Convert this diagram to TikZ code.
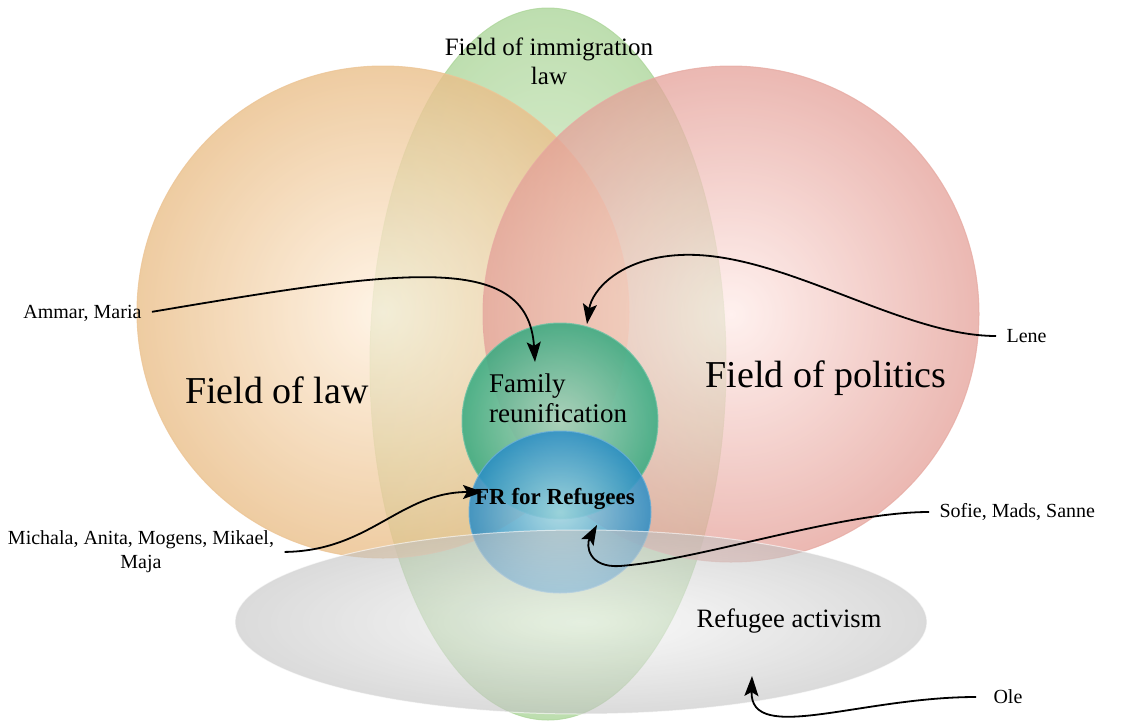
\documentclass[tikz,border=0pt]{standalone}
\usepackage{fontspec}
\setmainfont{Liberation Serif}
\usetikzlibrary{arrows.meta}

\definecolor{immedge}{HTML}{ADD69B}
\definecolor{immcore}{HTML}{E6F3DC}
\definecolor{lawedge}{HTML}{EABF8A}
\definecolor{lawcore}{HTML}{FFF1E0}
\definecolor{poledge}{HTML}{E4A098}
\definecolor{polcore}{HTML}{FFECE9}
\definecolor{famedge}{HTML}{34AA80}
\definecolor{famcore}{HTML}{A2D6BE}
\definecolor{fredge}{HTML}{2A8DC6}
\definecolor{frcore}{HTML}{A8D8E8}
\definecolor{actedge}{HTML}{C2C2C2}
\definecolor{actcore}{HTML}{F8F8F8}

\tikzset{
  field/.style={opacity=0.8, line width=1pt},
  names/.style={font=\fontsize{20}{24}\selectfont, align=center},
  link/.style={line width=1.8pt, shorten <=7pt, -{Stealth[length=20pt,width=14pt,inset=4pt]}},
}

\begin{document}
\begin{tikzpicture}[x=1pt,y=1pt]
  \useasboundingbox (0,0) rectangle (1125,-723);
  % fields
  \shade[field, draw=immedge, inner color=immcore, outer color=immedge] (548,-364) ellipse [x radius=178, y radius=356];
  \shade[field, draw=lawedge!90, inner color=lawcore, outer color=lawedge] (383,-312) circle (246);
  \shade[field, opacity=0.75, draw=poledge!90, inner color=polcore, outer color=poledge] (731,-314) circle (248);
  \shade[field, opacity=0.85, draw=famedge!70, inner color=famcore, outer color=famedge] (560,-421) circle (98);
  \shade[field, opacity=0.85, draw=fredge!70, inner color=frcore, outer color=fredge] (560,-512) ellipse [x radius=91, y radius=81];
  \shade[field, opacity=0.6, draw=white, inner color=actcore, outer color=actedge] (581,-622) ellipse [x radius=346, y radius=92];

  % labels
  \node[font=\fontsize{25}{29}\selectfont, align=center] (immlbl) at (549,-61) {Field of immigration\\law};
  \node[font=\fontsize{38}{44}\selectfont] (lawlbl) at (277,-390) {Field of law};
  \node[font=\fontsize{38}{44}\selectfont] (pollbl) at (826,-378) {Field of politics};
  \node[font=\fontsize{27}{30}\selectfont, align=left] (famlbl) at (558,-398) {Family\\reunification};
  \node[font=\fontsize{23}{27}\selectfont\bfseries] (frlbl) at (555,-499) {FR for Refugees};
  \node[font=\fontsize{26.5}{30}\selectfont] (actlbl) at (789,-621) {Refugee activism};

  % actors
  \node[names, anchor=east] (ammar) at (145,-313) {Ammar, Maria};
  \node[names, anchor=west] (lene) at (1003,-336) {Lene};
  \node[names] (mich) at (141,-552) {Michala, Anita, Mogens, Mikael,\\Maja};
  \node[names, anchor=west] (sofie) at (936,-512) {Sofie, Mads, Sanne};
  \node[names, anchor=west] (ole) at (990,-697) {Ole};

  \coordinate (tipfam) at (535,-362);
  \coordinate (tippol) at (587,-324);
  \coordinate (tipfr) at (483,-492);
  \coordinate (tipsofie) at (597,-525);
  \coordinate (tipole) at (752,-676);

  % arrows
  \draw[link] (ammar.east) .. controls (400,-270) and (528,-250) .. (tipfam);
  \draw[link] (lene.west) .. controls (900,-336) and (780,-250) .. (680,-255)
    .. controls (620,-258) and (592,-290) .. (tippol);
  \draw[link] (mich.east) .. controls (370,-551) and (400,-492) .. (tipfr);
  \draw[link] (sofie.west) .. controls (840,-512) and (700,-560) .. (620,-566)
    .. controls (588,-568) and (586,-545) .. (tipsofie);
  \draw[link, shorten <=14pt] (ole.west) .. controls (860,-697) and (750,-745) .. (tipole);
\end{tikzpicture}
\end{document}
